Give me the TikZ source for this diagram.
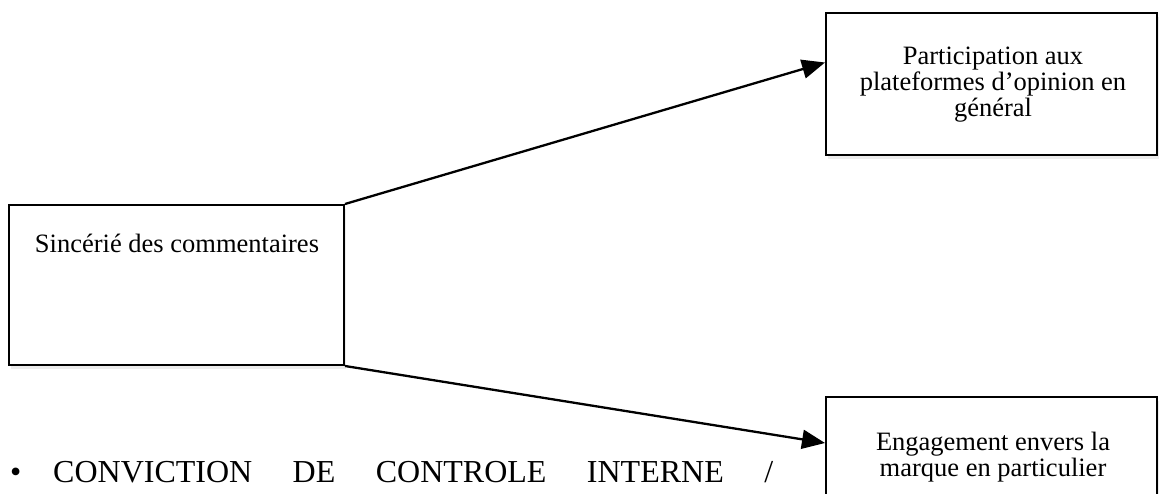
\documentclass[tikz,border=0pt]{standalone}
\usepackage{fontspec}
\setmainfont{Liberation Serif}
\usetikzlibrary{arrows.meta,shadows}
\begin{document}
\begin{tikzpicture}[x=1pt,y=-1pt,
  boxstyle/.style={draw=black, line width=2pt, fill=white, inner sep=0pt,
    drop shadow={opacity=0.15, shadow xshift=2pt, shadow yshift=-4pt}},
  boxtext/.style={align=center, inner sep=0pt, font=\fontsize{26.5}{26}\selectfont},
  arrowstyle/.style={line width=2.3pt, -{Triangle[length=23pt, width=19pt]}},
  bodytext/.style={inner sep=0pt, anchor=base west, font=\fontsize{32}{36}\selectfont}]
\useasboundingbox (0,0) rectangle (1160,494);
\clip (0,0) rectangle (1160,494);
% boxes
\node[boxstyle, minimum width=335pt, minimum height=160pt] (s) at (176.5,285) {};
\node[boxstyle, minimum width=331pt, minimum height=142pt] (p) at (991.5,84) {};
\node[boxstyle, minimum width=331pt, minimum height=135pt] (e) at (991.5,464.5) {};
% texts
\node[boxtext] (st) at (177,243) {Sincérié des commentaires};
\node[boxtext] (pt) at (993,85) {Participation aux\\plateformes d’opinion en\\général};
\node[boxtext] (et) at (993,457) {Engagement envers la\\marque en particulier};
% connectors
\coordinate (pin) at ([yshift=21.5pt]p.west);
\coordinate (ein) at ([yshift=21.5pt]e.west);
\draw[arrowstyle] (s.north east) -- (pin);
\draw[arrowstyle] (s.south east) -- (ein);
% bullet line
\node[bodytext] (bul) at (10,482) {\textbullet};
\node[bodytext] (conv) at (53,482) {\hbox to 720pt{CONVICTION\hfill DE\hfill CONTROLE\hfill INTERNE\hfill /}};
\end{tikzpicture}
\end{document}
